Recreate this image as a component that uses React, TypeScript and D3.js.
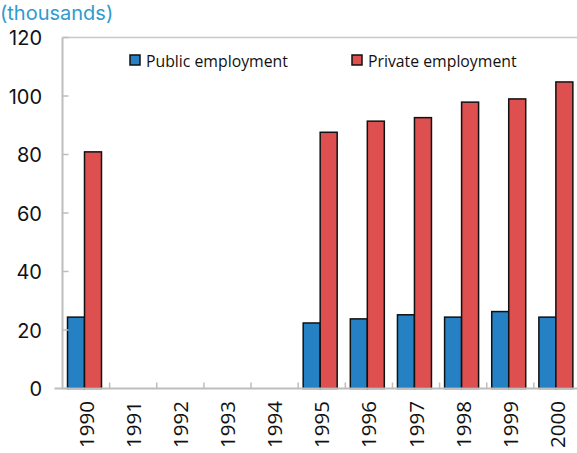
import React, { useEffect, useRef } from "react";
import * as d3 from "d3";

const years = ["1990", "1991", "1992", "1993", "1994", "1995", "1996", "1997", "1998", "1999", "2000"];
const publicEmp: (number | null)[] = [24.4, null, null, null, null, 22.4, 23.8, 25.2, 24.4, 26.3, 24.4];
const privateEmp: (number | null)[] = [80.9, null, null, null, null, 87.6, 91.4, 92.6, 97.9, 99.0, 104.8];
const yTicks = [0, 20, 40, 60, 80, 100, 120];
const seriesNames = ["Public employment", "Private employment"];
const seriesColors = ["#2681c4", "#de4f4f"];

const App = () => {
    const ref = useRef<SVGSVGElement | null>(null);

    useEffect(() => {
        const width = 577;
        const height = 453;
        const left = 62.5;
        const right = 581;
        const top = 37.5;
        const bottom = 388.5;
        const font = "'Open Sans', 'Noto Sans', sans-serif";
        const compact = "Inter, 'Open Sans', sans-serif";

        const svg = d3.select(ref.current);
        svg.selectAll("*").remove();
        svg.attr("width", width).attr("height", height);

        const x = d3.scaleBand<string>().domain(years).range([left, right]);
        const y = d3.scaleLinear().domain([0, 120]).range([bottom, top]);
        const inner = d3.scaleBand<number>().domain([0, 1]).range([5, 39]);

        // top border
        svg.append("line")
            .attr("x1", left).attr("x2", right)
            .attr("y1", top).attr("y2", top)
            .attr("stroke", "#c8c8c8").attr("stroke-width", 1.5);

        // bars
        const series = [publicEmp, privateEmp];
        series.forEach((vals, si) => {
            svg.append("g")
                .selectAll("rect")
                .data(years.map((yr, i) => ({ yr, v: vals[i] })).filter((d) => d.v != null))
                .join("rect")
                .attr("x", (d) => (x(d.yr) as number) + (inner(si) as number))
                .attr("y", (d) => y(d.v as number))
                .attr("width", inner.bandwidth())
                .attr("height", (d) => bottom - y(d.v as number))
                .attr("fill", seriesColors[si])
                .attr("stroke", "#111")
                .attr("stroke-width", 1.5);
        });

        // y axis
        svg.append("line")
            .attr("x1", left).attr("x2", left)
            .attr("y1", top).attr("y2", bottom)
            .attr("stroke", "#bdbdbd").attr("stroke-width", 2);
        svg.append("g")
            .selectAll("line")
            .data(yTicks)
            .join("line")
            .attr("x1", left).attr("x2", left + 6)
            .attr("y1", (d) => y(d)).attr("y2", (d) => y(d))
            .attr("stroke", "#bdbdbd").attr("stroke-width", 1.5);
        svg.append("g")
            .selectAll("text")
            .data(yTicks)
            .join("text")
            .attr("x", 42)
            .attr("y", (d) => y(d) + 7.5)
            .attr("text-anchor", "end")
            .attr("font-family", compact)
            .attr("font-size", 20)
            .attr("fill", "#111")
            .text((d) => d);

        // x axis
        svg.append("line")
            .attr("x1", left - 8).attr("x2", right)
            .attr("y1", bottom).attr("y2", bottom)
            .attr("stroke", "#bdbdbd").attr("stroke-width", 2);
        svg.append("g")
            .selectAll("line")
            .data(years.slice(1))
            .join("line")
            .attr("x1", (d) => x(d) as number).attr("x2", (d) => x(d) as number)
            .attr("y1", bottom).attr("y2", bottom - 6)
            .attr("stroke", "#bdbdbd").attr("stroke-width", 1.5);
        svg.append("g")
            .selectAll("text")
            .data(years)
            .join("text")
            .attr("transform", (d) => `translate(${(x(d) as number) + x.bandwidth() / 2 + 7.5},401) rotate(-90)`)
            .attr("text-anchor", "end")
            .attr("font-family", font)
            .attr("font-size", 20.5)
            .attr("fill", "#111")
            .text((d) => d);

        // unit label
        svg.append("text")
            .attr("x", 0)
            .attr("y", 20)
            .attr("font-family", compact)
            .attr("font-size", 20)
            .attr("fill", "#2e9bd0")
            .text("(thousands)");

        // legend
        const legendX = [130, 352];
        seriesNames.forEach((name, i) => {
            const g = svg.append("g").attr("transform", `translate(${legendX[i]},55)`);
            g.append("rect")
                .attr("x", 0).attr("y", 0)
                .attr("width", 10).attr("height", 10)
                .attr("fill", seriesColors[i])
                .attr("stroke", "#111").attr("stroke-width", 1.5);
            g.append("text")
                .attr("x", 16).attr("y", 11.5)
                .attr("font-family", font)
                .attr("font-size", 15.8)
                .attr("fill", "#111")
                .text(name);
        });
    }, []);

    return <svg ref={ref} style={{ position: "absolute", left: 0, top: 0 }}></svg>;
};

export default App;
